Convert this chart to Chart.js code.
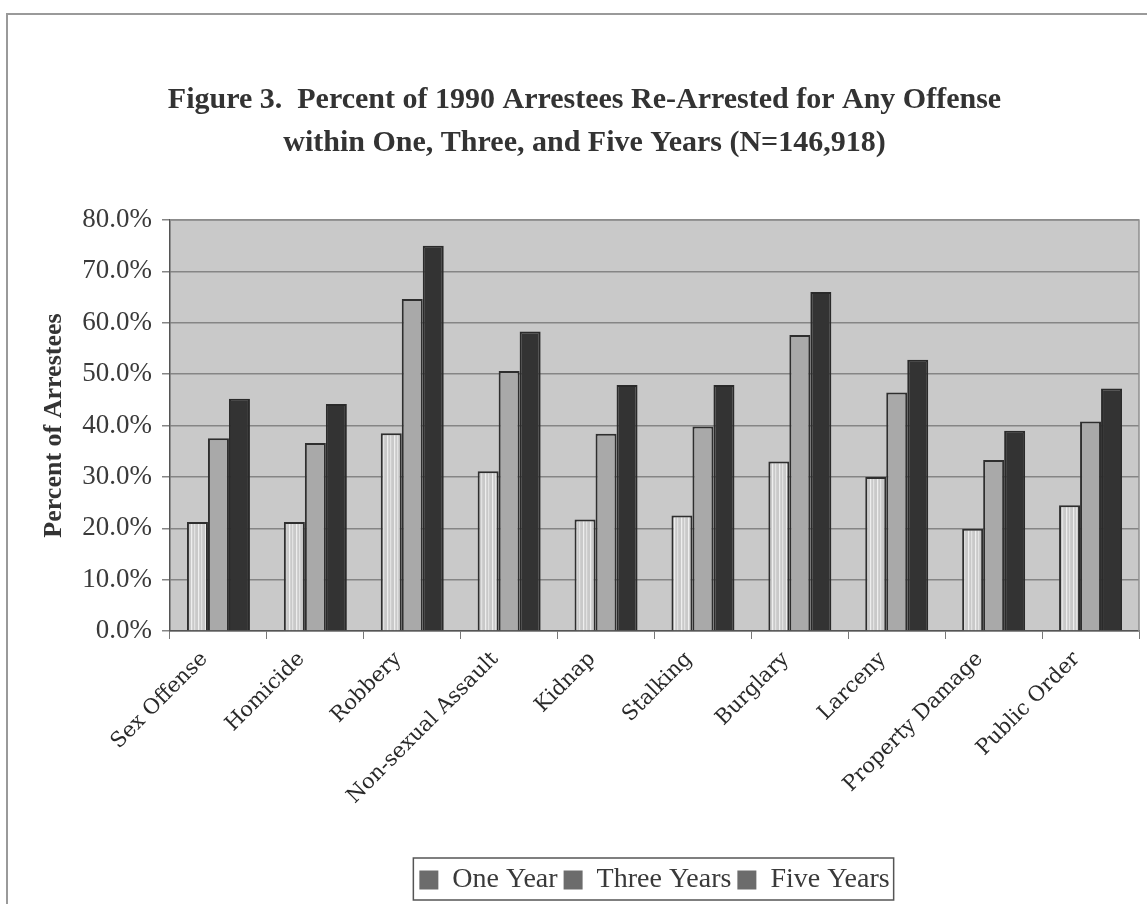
<!DOCTYPE html>
<html>
<head>
<meta charset="utf-8">
<title>Figure 3</title>
<script src="https://cdn.jsdelivr.net/npm/chart.js@4/dist/chart.umd.min.js"></script>
<style>
  html, body { margin: 0; padding: 0; background: #fff; }
  #wrap { width: 1147px; height: 904px; }
</style>
</head>
<body>
<div id="wrap"><canvas id="myChart" width="1147" height="904"></canvas></div>
<script>
// offense categories and re-arrest rates (percent)
const offenses = ['Sex Offense', 'Homicide', 'Robbery', 'Non-sexual Assault', 'Kidnap',
    'Stalking', 'Burglary', 'Larceny', 'Property Damage', 'Public Order'];
const oneYear = [21.2, 21.2, 38.5, 31.1, 21.7, 22.5, 33.0, 30.0, 19.9, 24.5];
const threeYears = [37.5, 36.6, 64.6, 50.6, 38.4, 39.8, 57.6, 46.4, 33.3, 40.8];
const fiveYears = [45.2, 44.2, 75.0, 58.3, 47.9, 47.9, 66.0, 52.8, 39.0, 47.2];
const seriesNames = ['One Year', 'Three Years', 'Five Years'];
const yTicks = [0, 10, 20, 30, 40, 50, 60, 70, 80];

const serif = '"Liberation Serif", "Times New Roman", serif';
const ink = '#3a3a3a';

// light fill with thin vertical stripes for the one-year bars
function stripes() {
    var c = document.createElement('canvas');
    c.width = 7; c.height = 1;
    var g = c.getContext('2d');
    var cols = ['#c9c9c9', '#c9c9c9', '#eeeeee', '#d2d2d2', '#c9c9c9', '#e2e2e2', '#cfcfcf'];
    cols.forEach((col, i) => { g.fillStyle = col; g.fillRect(i, 0, 1, 1); });
    return g.createPattern(c, 'repeat');
}

var ctx = document.getElementById('myChart');

// outer frame, plot background and the box around the legend
const decorations = {
    id: 'decorations',
    beforeDraw(chart) {
        const g = chart.ctx, a = chart.chartArea;
        g.save();
        g.fillStyle = '#fff';
        g.fillRect(0, 0, chart.width, chart.height);
        g.strokeStyle = '#9a9a9a';
        g.lineWidth = 2;
        g.strokeRect(7, 14, chart.width + 20, chart.height + 20);
        g.fillStyle = '#c9c9c9';
        g.fillRect(a.left, a.top, a.right - a.left, a.bottom - a.top);
        g.restore();
    },
    afterDraw(chart) {
        const g = chart.ctx, a = chart.chartArea;
        g.save();
        g.strokeStyle = '#8e8e8e';
        g.lineWidth = 1.5;
        g.beginPath();
        g.moveTo(a.left, a.top);
        g.lineTo(a.right, a.top);
        g.lineTo(a.right, a.bottom);
        g.stroke();
        const boxes = chart.legend.legendHitBoxes;
        if (boxes && boxes.length) {
            const l = Math.min(...boxes.map(b => b.left)) - 6;
            const r = Math.max(...boxes.map(b => b.left + b.width)) + 4;
            const t = boxes[0].top - 8;
            const h = boxes[0].height + 14;
            g.strokeStyle = '#555';
            g.lineWidth = 1.5;
            g.strokeRect(l, t, r - l, h);
        }
        g.restore();
    }
};

var myChart = new Chart(ctx, {
    type: 'bar',
    data: {
        labels: offenses,
        datasets: [{
            label: seriesNames[0],
            data: oneYear,
            backgroundColor: stripes(),
            borderColor: '#2e2e2e',
            borderWidth: 2
        }, {
            label: seriesNames[1],
            data: threeYears,
            backgroundColor: '#a9a9a9',
            borderColor: '#2e2e2e',
            borderWidth: 2
        }, {
            label: seriesNames[2],
            data: fiveYears,
            backgroundColor: '#333333',
            borderColor: '#2a2a2a',
            borderWidth: 2
        }]
    },
    options: {
        responsive: false,
        animation: false,
        datasets: { bar: { categoryPercentage: 0.65, barPercentage: 1.0 } },
        layout: { padding: { left: 30, right: 8, top: 0, bottom: 0 } },
        plugins: {
            title: {
                display: true,
                text: ['Figure 3.  Percent of 1990 Arrestees Re-Arrested for Any Offense',
                    'within One, Three, and Five Years (N=146,918)'],
                color: '#333',
                font: { family: serif, size: 30, weight: 'bold', lineHeight: 1.45 },
                padding: { top: 78, bottom: 55 }
            },
            legend: {
                position: 'bottom',
                fullSize: false,
                labels: {
                    color: ink,
                    font: { family: serif, size: 28 },
                    boxWidth: 19,
                    boxHeight: 19,
                    padding: 6,
                    generateLabels(chart) {
                        return Chart.defaults.plugins.legend.labels.generateLabels(chart).map(item => {
                            item.fillStyle = '#6c6c6c';
                            item.strokeStyle = '#6c6c6c';
                            item.lineWidth = 0;
                            return item;
                        });
                    }
                }
            },
            tooltip: { enabled: false }
        },
        scales: {
            x: {
                grid: { drawOnChartArea: false, drawTicks: true, tickLength: 8, color: '#777', offset: true },
                border: { color: '#555', width: 1.5 },
                ticks: {
                    color: '#2a2a2a',
                    font: { family: '"DejaVu Serif", serif', size: 21 },
                    maxRotation: 45,
                    minRotation: 45,
                    padding: 8,
                    labelOffset: -14
                },
                afterFit(scale) { scale.height = 229; }
            },
            y: {
                min: 0,
                max: 80,
                afterBuildTicks(scale) { scale.ticks = yTicks.map(v => ({ value: v })); },
                grid: { color: '#858585', lineWidth: 1.5, tickLength: 8 },
                border: { color: '#555', width: 1.5 },
                ticks: {
                    color: ink,
                    font: { family: serif, size: 27 },
                    padding: 10,
                    callback: v => v.toFixed(1) + '%'
                },
                title: {
                    display: true,
                    text: 'Percent of Arrestees',
                    color: '#333',
                    font: { family: serif, size: 26, weight: 'bold' },
                    padding: { top: 9, bottom: 0 }
                },
                afterFit(scale) { scale.width = 140; }
            }
        }
    },
    plugins: [decorations]
});
</script>
</body>
</html>
